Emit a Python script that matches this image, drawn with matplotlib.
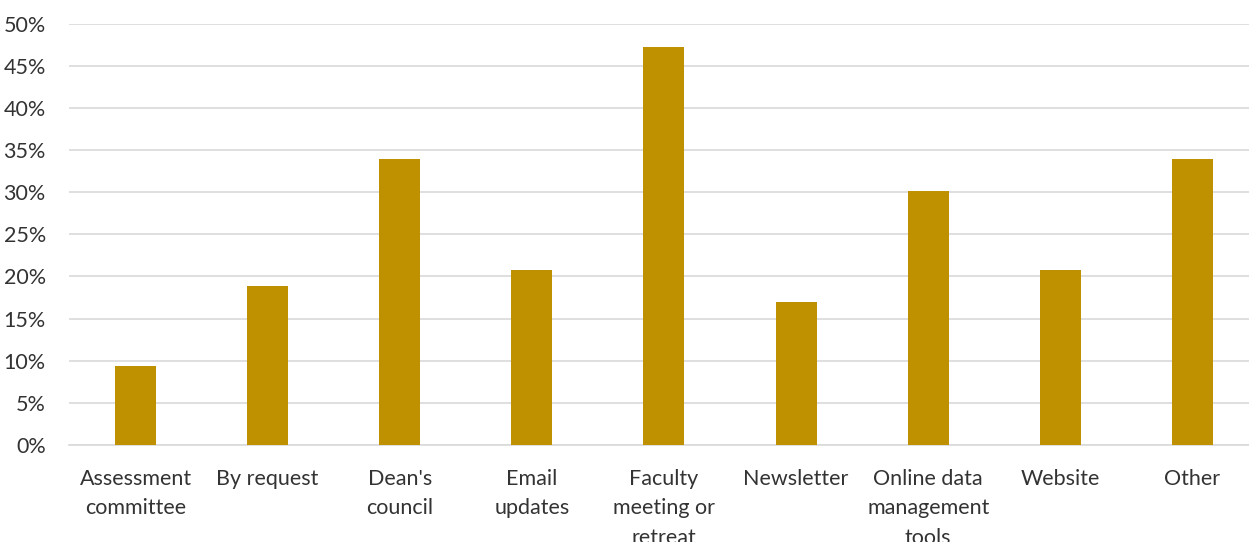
import numpy as np
import matplotlib.pyplot as plt
from matplotlib.ticker import PercentFormatter

# categories and shares (fraction of respondents)
categories = ['Assessment\ncommittee', 'By request', "Dean's\ncouncil", 'Email\nupdates',
              'Faculty\nmeeting or\nretreat', 'Newsletter', 'Online data\nmanagement\ntools',
              'Website', 'Other']
shares = [9.43, 18.87, 33.96, 20.75, 47.17, 16.98, 30.19, 20.75, 33.96]

plt.rcParams['font.family'] = ['Lato', 'DejaVu Sans']

fig = plt.figure(figsize=(12.49, 5.42), dpi=100)
ax = fig.add_axes([0.0556, 0.179, 0.952, 0.7775])

x = np.arange(len(categories))
ax.bar(x, shares, width=0.31, color='#BF9000', zorder=3)

ax.set_xlim(-0.5, len(categories) - 0.5)
ax.set_ylim(0, 50)
ax.set_yticks(np.arange(0, 51, 5))
ax.yaxis.set_major_formatter(PercentFormatter(decimals=0))
ax.set_xticks(x)
ax.set_xticklabels(categories, linespacing=1.6)

ax.grid(axis='y', color='#D9D9D9', linewidth=1.2, zorder=0)
for s in ['top', 'right', 'left']:
    ax.spines[s].set_visible(False)
ax.spines['bottom'].set_color('#D9D9D9')
ax.spines['bottom'].set_linewidth(1.2)
ax.tick_params(axis='both', length=0, labelsize=15.5, labelcolor='#333333')
ax.tick_params(axis='y', pad=17)
ax.tick_params(axis='x', pad=17)

plt.savefig('out.png', dpi=100)
